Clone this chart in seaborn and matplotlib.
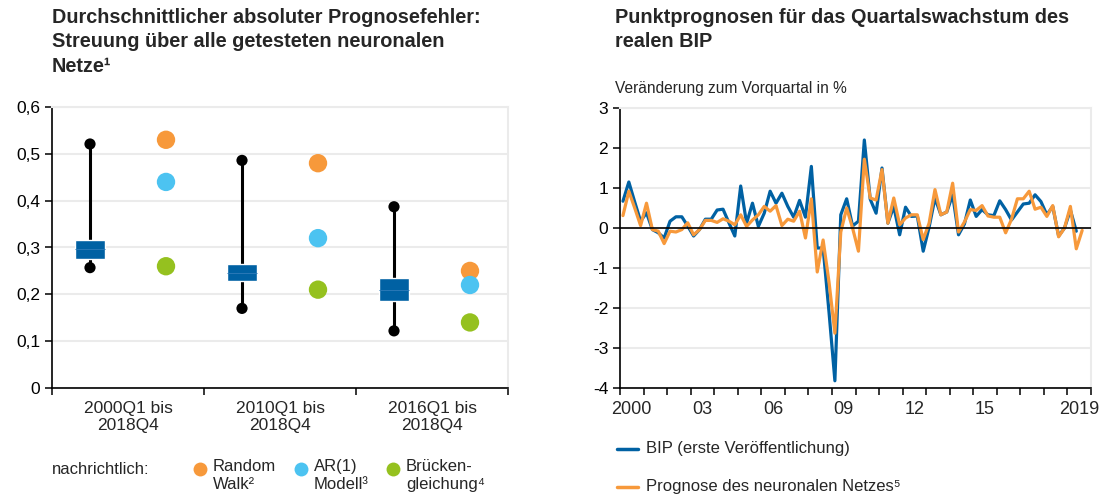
import numpy as np
import pandas as pd
import matplotlib
matplotlib.use("Agg")
import matplotlib.pyplot as plt
from matplotlib.lines import Line2D
import seaborn as sns

# left panel: mean absolute forecast error
periods = ["2000Q1 bis\n2018Q4", "2010Q1 bis\n2018Q4", "2016Q1 bis\n2018Q4"]
nn_min = [0.257, 0.170, 0.122]
nn_max = [0.521, 0.486, 0.387]
nn_q25 = [0.275, 0.228, 0.186]
nn_q75 = [0.316, 0.264, 0.234]
nn_median = [0.296, 0.246, 0.210]
random_walk = [0.53, 0.48, 0.25]
ar1 = [0.44, 0.32, 0.22]
bridge = [0.26, 0.21, 0.14]

# right panel: quarterly GDP growth from 2000Q1
bip = [0.67, 1.15, 0.65, 0.17, 0.38, -0.04, -0.12, -0.25,
       0.17, 0.28, 0.28, 0.05, -0.20, -0.04, 0.22, 0.22,
       0.45, 0.47, 0.13, -0.20, 1.05, 0.12, 0.62, 0.04,
       0.37, 0.92, 0.62, 0.87, 0.54, 0.27, 0.69, 0.27,
       1.54, -0.50, -0.50, -2.10, -3.82, 0.33, 0.73, 0.05,
       0.17, 2.20, 0.72, 0.37, 1.50, 0.12, 0.54, -0.17,
       0.52, 0.29, 0.30, -0.58, 0.02, 0.75, 0.33, 0.40,
       0.83, -0.17, 0.10, 0.70, 0.29, 0.46, 0.33, 0.31,
       0.68, 0.46, 0.20, 0.40, 0.60, 0.62, 0.83, 0.66,
       0.33, 0.54, -0.20, 0.00, 0.45, -0.08]
prognose = [0.31, 0.92, 0.50, 0.06, 0.62, -0.04, -0.08, -0.39,
            -0.08, -0.10, -0.04, 0.13, -0.17, -0.04, 0.19, 0.19,
            0.14, 0.23, 0.17, 0.08, 0.33, 0.04, 0.20, 0.33,
            0.54, 0.42, 0.56, 0.06, 0.22, 0.17, 0.42, -0.25,
            0.73, -1.10, -0.30, -1.35, -2.63, -0.10, 0.50, 0.00,
            -0.58, 1.72, 0.75, 0.70, 1.46, 0.12, 0.75, 0.08,
            0.25, 0.33, 0.33, -0.29, 0.12, 0.96, 0.33, 0.40,
            1.12, -0.10, 0.15, 0.46, 0.44, 0.56, 0.30, 0.27,
            0.27, -0.12, 0.22, 0.73, 0.73, 0.92, 0.47, 0.52,
            0.29, 0.56, -0.22, 0.00, 0.54, -0.52, -0.06]
year_labels = ["2000", "03", "06", "09", "12", "15", "2019"]

DARKBLUE = "#0061a3"
ORANGE = "#f7993b"
LIGHTBLUE = "#4cc3f1"
GREEN = "#95c11f"
GRID = "#ebebeb"

sns.set_style("white")
plt.rcParams["font.family"] = ["Liberation Sans", "DejaVu Sans"]
plt.rcParams["font.size"] = 12
plt.rcParams["axes.unicode_minus"] = False

fig = plt.figure(figsize=(11.03, 4.95), dpi=100)
W, H = 1103, 495


def axes_px(x0, y0, x1, y1):
    return fig.add_axes([x0 / W, 1 - y1 / H, (x1 - x0) / W, (y1 - y0) / H])


def style_axes(ax):
    ax.yaxis.grid(True, color=GRID, lw=1.5)
    ax.set_axisbelow(True)
    for s in ["left", "bottom"]:
        ax.spines[s].set_color("black")
        ax.spines[s].set_linewidth(1.2)
    for s in ["top", "right"]:
        ax.spines[s].set_color(GRID)
        ax.spines[s].set_linewidth(1.5)
    ax.tick_params(axis="both", direction="out", length=5, width=1.1,
                   colors="black", labelsize=12.5, left=True, bottom=True)


# ---------- left panel ----------
ax1 = axes_px(52, 107, 508, 388)
style_axes(ax1)
pos = np.arange(len(periods))
box_x = pos - 0.25
dot_x = pos + 0.25

ax1.vlines(box_x, nn_min, nn_max, color="black", lw=2.2, zorder=3)
ends = pd.DataFrame({"x": np.concatenate([box_x, box_x]),
                     "y": nn_min + nn_max})
sns.scatterplot(data=ends, x="x", y="y", color="black", s=65,
                edgecolor="none", ax=ax1, zorder=4, legend=False)
ax1.bar(box_x, np.array(nn_q75) - np.array(nn_q25), bottom=nn_q25,
        width=0.2, color=DARKBLUE, zorder=5)
ax1.hlines(nn_median, box_x - 0.1, box_x + 0.1, color="#2a78b6",
           lw=0.7, zorder=6)

dots = pd.DataFrame({
    "x": np.tile(dot_x, 3),
    "y": random_walk + ar1 + bridge,
    "method": ["rw"] * 3 + ["ar"] * 3 + ["br"] * 3,
})
sns.scatterplot(data=dots, x="x", y="y", hue="method",
                palette={"rw": ORANGE, "ar": LIGHTBLUE, "br": GREEN},
                s=175, edgecolor="none", ax=ax1, legend=False, zorder=4)

ax1.set_xlim(-0.5, 2.5)
ax1.set_ylim(0, 0.6)
ax1.set_yticks(np.arange(0, 0.61, 0.1))
ax1.set_yticklabels(["0", "0,1", "0,2", "0,3", "0,4", "0,5", "0,6"])
ax1.set_xticks([-0.5, 0.5, 1.5, 2.5])
ax1.set_xticklabels([])
ax1.set_xticks(pos, minor=True)
ax1.set_xticklabels(periods, minor=True, fontsize=12.5, linespacing=1.2)
ax1.tick_params(axis="x", which="minor", length=0, pad=9)
ax1.set_xlabel("")
ax1.set_ylabel("")

fig.text(52 / W, 1 - 8 / H,
         "Durchschnittlicher absoluter Prognosefehler:\n"
         "Streuung über alle getesteten neuronalen\nNetze¹",
         ha="left", va="top", fontsize=14.3, fontweight="bold",
         linespacing=1.35)

# legend for the left panel
fig.text(52 / W, 1 - 469 / H, "nachrichtlich:", ha="left", va="center",
         fontsize=12)
for xd, col, lab in [(200, ORANGE, "Random\nWalk²"),
                     (301, LIGHTBLUE, "AR(1)\nModell³"),
                     (393, GREEN, "Brücken-\ngleichung⁴")]:
    fig.add_artist(Line2D([xd / W], [1 - 469 / H], marker="o", color=col,
                          markersize=10, markeredgewidth=0,
                          transform=fig.transFigure))
    fig.text((xd + 13) / W, 1 - 459 / H, lab, ha="left", va="top",
             fontsize=12, linespacing=1.25)

# ---------- right panel ----------
ax2 = axes_px(620, 108, 1091, 388)
style_axes(ax2)
xb = 2000 + np.arange(len(bip)) / 4 + 0.125
xp = 2000 + np.arange(len(prognose)) / 4 + 0.125
ts = pd.concat([
    pd.DataFrame({"t": xb, "v": bip, "s": "BIP"}),
    pd.DataFrame({"t": xp, "v": prognose, "s": "Prognose"}),
])
sns.lineplot(data=ts, x="t", y="v", hue="s", hue_order=["BIP", "Prognose"],
             palette={"BIP": DARKBLUE, "Prognose": ORANGE}, lw=2.3,
             ax=ax2, legend=False, zorder=3)
ax2.axhline(0, color="black", lw=1.2, zorder=4)
ax2.set_xlim(2000, 2020)
ax2.set_ylim(-4, 3)
ax2.set_yticks(range(-4, 4))
ax2.set_xticks(range(2000, 2021))
ax2.set_xticklabels([])
ax2.set_xticks([2000.5, 2003.5, 2006.5, 2009.5, 2012.5, 2015.5, 2019.5],
               minor=True)
ax2.set_xticklabels(year_labels, minor=True, fontsize=13)
ax2.tick_params(axis="x", which="minor", length=0, pad=9)
ax2.set_xlabel("")
ax2.set_ylabel("")

fig.text(615 / W, 1 - 8 / H,
         "Punktprognosen für das Quartalswachstum des\nrealen BIP",
         ha="left", va="top", fontsize=14.3, fontweight="bold",
         linespacing=1.35)
fig.text(615 / W, 1 - 88 / H, "Veränderung zum Vorquartal in %",
         ha="left", va="center", fontsize=11.2)

for yl, col, lab in [(449, DARKBLUE, "BIP (erste Veröffentlichung)"),
                     (487, ORANGE, "Prognose des neuronalen Netzes⁵")]:
    fig.add_artist(Line2D([617 / W, 638 / W], [1 - yl / H, 1 - yl / H],
                          color=col, lw=2.5, transform=fig.transFigure))
    fig.text(646 / W, 1 - yl / H, lab, ha="left", va="center", fontsize=12)

fig.savefig("out.png", dpi=100)
